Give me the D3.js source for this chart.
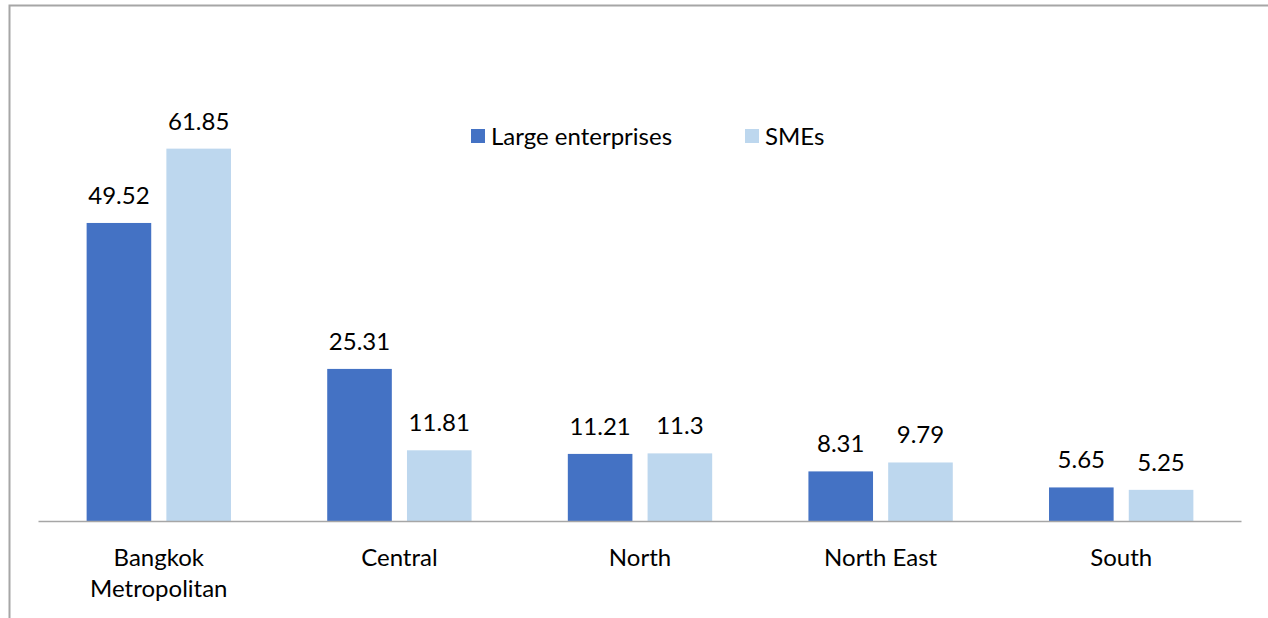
<!DOCTYPE html>
<html>
<head>
<meta charset="utf-8">
<script src="https://cdn.jsdelivr.net/npm/d3@7"></script>
<style>
  html, body { margin: 0; padding: 0; background: #fff; overflow: hidden; }
  svg { display: block; }
  text { font-family: Lato, "Open Sans", sans-serif; fill: #000; }
</style>
</head>
<body>
<svg id="chart" width="1268" height="618"></svg>
<script>
// Regional shares by firm size
const regions = [["Bangkok", "Metropolitan"], ["Central"], ["North"], ["North East"], ["South"]];
const seriesNames = ["Large enterprises", "SMEs"];
const largeValues = [49.52, 25.31, 11.21, 8.31, 5.65];
const smeValues = [61.85, 11.81, 11.3, 9.79, 5.25];
const seriesColors = ["#4472C4", "#BDD7EE"];

(function () {
  const svg = d3.select("#chart");
  const W = 1268, H = 618;
  const fontSize = "24px";

  // outer frame
  svg.append("rect")
    .attr("x", 9.5).attr("y", 5.5)
    .attr("width", W + 20).attr("height", H + 20)
    .attr("fill", "none").attr("stroke", "#a6a6a6").attr("stroke-width", 2);

  const plotLeft = 38.5, plotRight = 1241.5, baseline = 521.5, plotTop = 99.5;

  const x0 = d3.scaleBand()
    .domain(d3.range(regions.length))
    .range([plotLeft, plotRight])
    .paddingInner(0.4).paddingOuter(0.2);

  const x1 = d3.scaleBand()
    .domain([0, 1])
    .range([0, x0.bandwidth()])
    .paddingInner(0.19);

  const y = d3.scaleLinear().domain([0, 70]).range([baseline, plotTop]);

  const rows = regions.map((r, i) => ({ i, vals: [largeValues[i], smeValues[i]] }));

  const groups = svg.append("g").selectAll("g")
    .data(rows).join("g")
    .attr("transform", d => `translate(${x0(d.i)},0)`);

  groups.selectAll("rect")
    .data(d => d.vals.map((v, s) => ({ v, s })))
    .join("rect")
    .attr("x", d => x1(d.s))
    .attr("width", x1.bandwidth())
    .attr("y", d => y(d.v))
    .attr("height", d => baseline - y(d.v))
    .attr("fill", d => seriesColors[d.s]);

  groups.selectAll("text.val")
    .data(d => d.vals.map((v, s) => ({ v, s })))
    .join("text")
    .attr("class", "val")
    .attr("x", d => x1(d.s) + x1.bandwidth() / 2)
    .attr("y", d => y(d.v) - 19)
    .attr("text-anchor", "middle")
    .style("font-size", fontSize)
    .text(d => d.v);

  // category axis
  const xAxis = d3.axisBottom(x0).tickSize(0).tickFormat(() => "");
  const axisG = svg.append("g").attr("transform", `translate(0,${baseline})`).call(xAxis);
  axisG.select(".domain").attr("stroke", "#a6a6a6").attr("stroke-width", 1.5)
    .attr("d", `M${plotLeft},0H${plotRight}`);

  axisG.selectAll(".tick").each(function (d) {
    const t = d3.select(this).append("text")
      .attr("text-anchor", "middle")
      .style("font-size", fontSize)
      .attr("y", 44);
    regions[d].forEach((line, k) => {
      t.append("tspan").attr("x", 0).attr("dy", k === 0 ? 0 : 31).text(line);
    });
  });

  // legend
  const legendX = [471, 745];
  const legend = svg.append("g");
  seriesNames.forEach((name, s) => {
    legend.append("rect")
      .attr("x", legendX[s]).attr("y", 129)
      .attr("width", 14).attr("height", 14)
      .attr("fill", seriesColors[s]);
    legend.append("text")
      .attr("x", legendX[s] + 20).attr("y", 145)
      .style("font-size", fontSize)
      .text(name);
  });
})();
</script>
</body>
</html>
